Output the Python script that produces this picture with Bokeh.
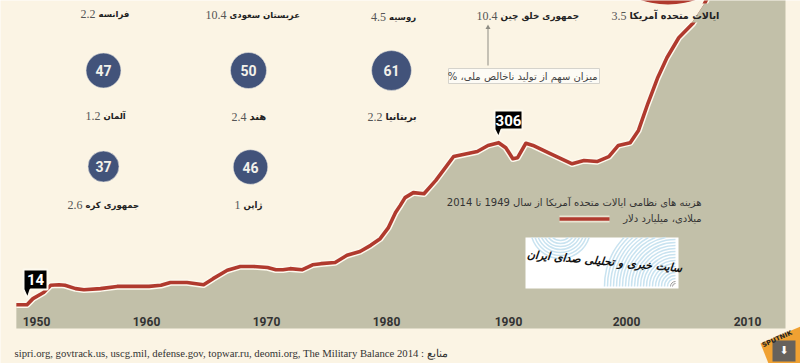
from bokeh.plotting import figure
from bokeh.embed import file_html
from bokeh.resources import INLINE
from bokeh.core.properties import value
import numpy as np

# ---------- data ----------
line_years = [1948.3,1949.2,1949.7,1950.6,1951.2,1951.9,1952.4,1953.3,1954.0,1955.4,1956.8,1958.2,1959.5,
              1960.5,1961.3,1962.7,1964.1,1964.9,1966.1,1967.2,1968.3,1969.5,1970.2,1970.8,1971.4,1972.4,
              1973.3,1974.0,1975.2,1976.2,1977.3,1978.2,1979.0,1979.7,1980.3,1980.7,1981.1,1981.8,1982.7,
              1983.7,1985.2,1987.2,1988.1,1989.0,1989.6,1990.2,1990.6,1991.3,1991.9,1993.4,1995.2,1996.2,
              1997.3,1998.3,1999.1,2000.1,2000.8,2001.6,2002.4,2003.2,2004.2,2005.4,2006.0,2006.5,2007.3,
              2010.3,2013.2]
line_values = [14,14,25,36,49,50,49,43,41,43,47,47,47,49,54,54,50,61,76,83,83,81,77,77,79,77,86,88,90,103,
               110,121,133,153,180,193,207,216,214,238,281,290,301,306,297,277,279,305,301,286,268,274,272,
               281,301,306,328,377,422,459,495,521,541,562,598,680,690]
tick_labels = ["1950","1960","1970","1980","1990","2000","2010"]
flag_values = [14,306]

country_names = ["فرانسه","عربستان سعودی","روسیه","جمهوری خلق چین","ایالات متحده آمریکا",
                 "آلمان","هند","بریتانیا","جمهوری کره","ژاپن"]
gdp_share = ["2.2","10.4","4.5","10.4","3.5","1.2","2.4","2.2","2.6","1"]
bubble_values = [47,50,61,46,37]
title_line1 = "هزینه های نظامی ایالات متحده آمریکا از سال 1949 تا 2014"
title_line2 = "میلادی، میلیارد دلار"
note = "میزان سهم از تولید ناخالص ملی، %\u200f"
logo_text = "سایت خبری و تحلیلی صدای ایران"
source = "sipri.org, govtrack.us, uscg.mil, defense.gov, topwar.ru, deomi.org, The Military Balance 2014 : منابع"

# ---------- layout: window pixels -> data ----------
W, H = 800, 363
CREAM, OLIVE, RED, NAVY = "#fbf4e4", "#c2c0a9", "#b03a2e", "#42537a"
HALO = "#fdf9ee"
px = lambda x: 1950 + (x - 36) / 11.85
py = lambda y: (312 - y) / 0.555

p = figure(width=W, height=H, output_backend="svg", toolbar_location=None,
           x_range=(px(0), px(800)), y_range=(py(363), py(0)),
           min_border=0, min_border_left=0, min_border_right=0, min_border_top=0, min_border_bottom=0,
           background_fill_color=CREAM, border_fill_color=CREAM, outline_line_color=None)
p.grid.visible = False
p.yaxis.visible = False
p.xaxis.visible = False

# area and line
base = py(328)
area_x = line_years + [px(785)]
area_y = line_values + [line_values[-1]]
p.varea(x=area_x, y1=[base] * len(area_x), y2=area_y, fill_color=OLIVE)
p.line(line_years, line_values, line_color=HALO, line_width=6.5, line_join="round")
p.line(line_years, line_values, line_color=RED, line_width=3.6, line_join="round")

# the label of the largest spender interrupts the line
p.patch([px(a) for a in (683, 691.5, 704, 696)], [py(a) for a in (22, 22, 3, 3)], fill_color=CREAM, line_color=None)
p.patch([px(a) for a in (691.5, 700, 712, 704)], [py(a) for a in (22, 22, 3, 3)], fill_color=OLIVE, line_color=None)

# US bubble, cut by the top edge
p.scatter([px(667.5)], [py(-82)], size=172, fill_color=RED, line_color=None)

# year labels (placed where the reference places them)
tick_px = [36, 146, 266, 386, 508, 626, 747]
p.text([px(x) for x in tick_px], [py(320.5)] * len(tick_px), text=tick_labels, text_align="center", text_baseline="middle",
       text_font=value("Roboto"), text_font_style="bold", text_font_size="12px", text_color="#333333")

# bubbles
bubble_labels = [str(v) for v in bubble_values]
bub_x = [px(103), px(248), px(391), px(250), px(103)]
bub_y = [py(70), py(70), py(70), py(166.5), py(166)]
p.scatter(bub_x, bub_y, size=[5.1 * np.sqrt(v) for v in bubble_values], fill_color=NAVY, line_color="#e8e6e0", line_width=0.6)
p.text(bub_x, bub_y, text=bubble_labels, text_align="center", text_baseline="middle", text_color="#f3f1ea",
       text_font=value("Roboto"), text_font_style="bold", text_font_size="14px")

# country labels (name to the right of the split, share to the left)
split_x = [96, 227, 386.5, 498, 627, 101, 247, 383, 83, 241]
label_y = [13, 14.5, 16, 15, 15, 115, 116, 116, 204, 204]
name_size = [8.5, 8.5, 8.5, 8.8, 9.6, 8.5, 10, 9.4, 8.5, 8.6]
for sx, ly, name, share, fs in zip(split_x, label_y, country_names, gdp_share, name_size):
    p.text([px(sx + 2)], [py(ly)], text=[name], text_align="left", text_baseline="middle",
           text_font=value("DejaVu Sans"), text_font_style="bold", text_font_size=f"{fs}px", text_color="#222222")
    p.text([px(sx - 1)], [py(ly)], text=[share], text_align="right", text_baseline="middle",
           text_font=value("Liberation Serif"), text_font_size="12px", text_color="#555555")

# note box and arrow
p.quad(left=[px(448)], right=[px(599)], top=[py(68)], bottom=[py(83)], fill_color="#fdfbf5", line_color="#d5d3cc", line_width=1)
p.text([px(597)], [py(75.5)], text=[note], text_align="right", text_baseline="middle",
       text_font=value("DejaVu Sans"), text_font_size="10px", text_color="#444444")
p.segment([px(487.5)], [py(65)], [px(487.5)], [py(26)], line_color="#8f8d84", line_width=1)
p.scatter([px(487.5)], [py(27)], marker="triangle", size=5, fill_color="#8f8d84", line_color=None)

# flags
flag_boxes = [(23, 47, 269, 289, 27, 298), (494, 522, 110, 129, 498, 137)]
for (l, r, t, b, tipx, tipy), v in zip(flag_boxes, flag_values):
    xs = [px(a) for a in (l, r, r, tipx + 3, tipx, l)]
    ys = [py(a) for a in (t, t, b, b, tipy, b)]
    p.patch(xs, ys, fill_color="black", line_color=HALO, line_width=2)
    p.text([px((l + r) / 2)], [py((t + b) / 2)], text=[str(v)], text_align="center", text_baseline="middle",
           text_color="white", text_font=value("Roboto"), text_font_style="bold", text_font_size="15px")

# title + legend sample inside the area
p.text([px(701)], [py(202)], text=[title_line1], text_align="right", text_baseline="middle",
       text_font=value("DejaVu Sans"), text_font_size="10px", text_color="#333333")
p.text([px(701)], [py(218)], text=[title_line2], text_align="right", text_baseline="middle",
       text_font=value("DejaVu Sans"), text_font_size="10px", text_color="#333333")
p.segment([px(559)], [py(218.5)], [px(609)], [py(218.5)], line_color="#e9e3d2", line_width=7)
p.segment([px(559)], [py(218.5)], [px(609)], [py(218.5)], line_color=RED, line_width=3.5)

# logo box
p.quad(left=[px(525)], right=[px(678)], top=[py(237)], bottom=[py(288)], fill_color="white", line_color=None)
for r in range(8, 72, 3):
    start = np.pi - np.arcsin(49 / r) if r > 49 else np.pi / 2
    p.arc([px(675)], [py(286)], radius=r, radius_units="screen", start_angle=start, end_angle=np.pi,
          line_color="#c9e3f0", line_width=1.5)
for r in range(12, 32, 3):
    a = np.arcsin(9 / r)
    p.arc([px(560)], [py(228)], radius=r, radius_units="screen", start_angle=np.pi + a, end_angle=2 * np.pi - a,
          line_color="#c9e3f0", line_width=1.5)
for r in (3, 5):
    p.arc([px(675)], [py(286)], radius=r, radius_units="screen", start_angle=np.pi / 2, end_angle=np.pi,
          line_color="#9a9a9a", line_width=1)
p.text([px(604)], [py(261)], text=[logo_text], text_align="center", text_baseline="middle", angle=-0.09,
       text_font=value("DejaVu Sans"), text_font_style="bold italic", text_font_size="11px", text_color="#111111")

# source
p.text([px(14)], [py(352)], text=[source], text_align="left", text_baseline="middle",
       text_font=value("Liberation Serif"), text_font_size="10.7px", text_color="#333333")

# agency mark
p.patch([px(a) for a in (760, 800, 800, 768)], [py(a) for a in (343, 326, 363, 363)], fill_color="#f0a132", line_color=None)
p.quad(left=[px(772)], right=[px(795)], top=[py(340)], bottom=[py(361)], fill_color="#67625c", line_color=None)
p.text([px(783.5)], [py(350)], text=["⬇"], text_align="center", text_baseline="middle", text_color="white",
       text_font=value("DejaVu Sans"), text_font_size="11px")
p.text([px(762)], [py(345)], text=["SPUTNIK"], text_align="left", text_baseline="middle", angle=0.42, text_color="#222222",
       text_font=value("DejaVu Sans"), text_font_style="bold", text_font_size="6.5px")

open("out.html", "w").write(file_html(p, INLINE))
